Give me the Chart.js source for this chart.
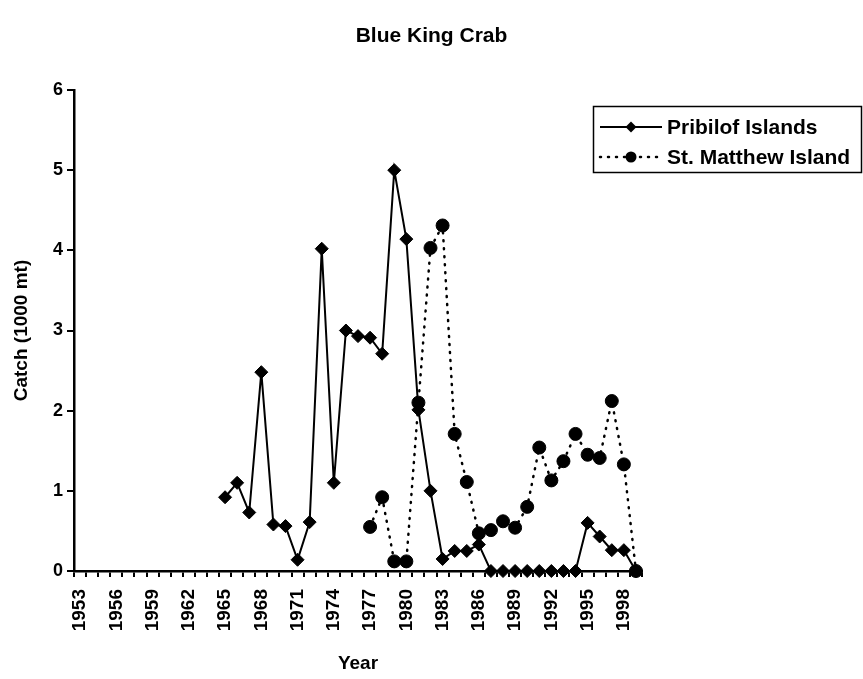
<!DOCTYPE html>
<html>
<head>
<meta charset="utf-8">
<script src="https://cdn.jsdelivr.net/npm/chart.js@4.4.0/dist/chart.umd.min.js"></script>
<style>
  html, body { margin: 0; padding: 0; background: #fff; }
  #wrap { width: 863px; height: 679px; }
</style>
</head>
<body>
<div id="wrap"><canvas id="myChart" width="863" height="679"></canvas></div>
<script>
// categories (season years)
const years = [
  '1953','1954','1955','1956','1957','1958','1959','1960','1961','1962',
  '1963','1964','1965','1966','1967','1968','1969','1970','1971','1972',
  '1973','1974','1975','1976','1977','1978','1979','1980','1981','1982',
  '1983','1984','1985','1986','1987','1988','1989','1990','1991','1992',
  '1993','1994','1995','1996','1997','1998','1999'
];

// catch, 1000 mt
const pribilof = [
  null, null, null, null, null, null, null, null, null, null, null, null,
  0.92, 1.10, 0.73, 2.48, 0.58, 0.56, 0.14, 0.61, 4.02, 1.10,
  3.00, 2.93, 2.91, 2.71, 5.00, 4.14, 2.01, 1.00, 0.15, 0.25,
  0.25, 0.33, 0, 0, 0, 0, 0, 0, 0, 0,
  0.60, 0.43, 0.26, 0.26, 0
];

const stMatthew = [
  null, null, null, null, null, null, null, null, null, null, null, null,
  null, null, null, null, null, null, null, null, null, null, null, null,
  0.55, 0.92, 0.12, 0.12, 2.10, 4.03, 4.31, 1.71, 1.11, 0.47,
  0.51, 0.62, 0.54, 0.80, 1.54, 1.13, 1.37, 1.71, 1.45, 1.41,
  2.12, 1.33, 0.0
];

const yTicks = [0, 1, 2, 3, 4, 5, 6];

const FONT = '"Liberation Sans", Arial, sans-serif';
const TITLE = 'Blue King Crab';

// title centred on the whole page + boxed key in the top right corner
const extras = {
  id: 'extras',
  afterDraw(chart) {
    const ctx = chart.ctx;
    ctx.save();
    ctx.fillStyle = '#000';
    ctx.font = 'bold 21px ' + FONT;
    ctx.textAlign = 'center';
    ctx.textBaseline = 'middle';
    ctx.fillText(TITLE, chart.width / 2, 36);

    ctx.strokeStyle = '#000';
    ctx.lineWidth = 1.5;
    ctx.setLineDash([]);
    ctx.strokeRect(593.5, 106.5, 268, 66);
    chart.data.datasets.forEach((ds, i) => {
      const y = 127 + i * 30;
      ctx.beginPath();
      ctx.lineWidth = ds.borderWidth;
      ctx.lineCap = ds.borderCapStyle || 'butt';
      ctx.setLineDash(ds.borderDash || []);
      ctx.moveTo(600, y);
      ctx.lineTo(662, y);
      ctx.stroke();
      ctx.setLineDash([]);
      ctx.beginPath();
      const r = ds.pointRadius - 1;
      if (ds.pointStyle === 'rectRot') {
        ctx.moveTo(631, y - r); ctx.lineTo(631 + r, y);
        ctx.lineTo(631, y + r); ctx.lineTo(631 - r, y);
        ctx.closePath();
      } else {
        ctx.arc(631, y, r, 0, Math.PI * 2);
      }
      ctx.fill();
      ctx.font = 'bold 21px ' + FONT;
      ctx.textAlign = 'left';
      ctx.fillText(ds.label, 667, y + 1);
    });
    ctx.restore();
  }
};

const ctx = document.getElementById('myChart').getContext('2d');

const myChart = new Chart(ctx, {
  type: 'line',
  data: {
    labels: years,
    datasets: [
      {
        label: 'Pribilof Islands',
        data: pribilof,
        borderColor: '#000',
        backgroundColor: '#000',
        borderWidth: 2,
        pointStyle: 'rectRot',
        pointRadius: 6.5,
        pointBorderWidth: 1,
        tension: 0,
        clip: false
      },
      {
        label: 'St. Matthew Island',
        data: stMatthew,
        borderColor: '#000',
        backgroundColor: '#000',
        borderWidth: 2.5,
        borderDash: [1, 7],
        borderCapStyle: 'round',
        pointStyle: 'circle',
        pointRadius: 6.5,
        pointBorderWidth: 1,
        tension: 0,
        clip: false
      }
    ]
  },
  options: {
    responsive: false,
    animation: false,
    layout: { padding: { left: 0, right: 221, top: 90, bottom: 0 } },
    plugins: {
      legend: { display: false },
      tooltip: { enabled: false },
      title: { display: false }
    },
    scales: {
      x: {
        offset: true,
        grid: { offset: true, drawOnChartArea: false, drawTicks: true, tickLength: 6, color: '#000', lineWidth: 2 },
        border: { color: '#000', width: 2.5 },
        ticks: {
          autoSkip: false,
          minRotation: 90,
          maxRotation: 90,
          color: '#000',
          padding: 12,
          font: { family: FONT, size: 19, weight: 'bold' },
          callback: function (v, i) { return i % 3 === 0 ? this.getLabelForValue(v) : ''; }
        },
        title: {
          display: true,
          text: 'Year',
          color: '#000',
          font: { family: FONT, size: 19, weight: 'bold' },
          padding: { top: 4, bottom: 4 }
        },
        afterFit(s) { s.height = 108; }
      },
      y: {
        min: yTicks[0],
        max: yTicks[yTicks.length - 1],
        afterBuildTicks(s) { s.ticks = yTicks.map(v => ({ value: v })); },
        grid: { drawOnChartArea: false, drawTicks: true, tickLength: 7, color: '#000', lineWidth: 2 },
        border: { color: '#000', width: 2.5 },
        ticks: {
          color: '#000',
          padding: 4,
          font: { family: FONT, size: 18, weight: 'bold' }
        },
        title: {
          display: true,
          text: 'Catch (1000 mt)',
          color: '#000',
          font: { family: FONT, size: 19, weight: 'bold' },
          padding: { top: 10, bottom: 8 }
        },
        afterFit(s) { s.width = 74; }
      }
    }
  },
  plugins: [extras]
});
</script>
</body>
</html>
